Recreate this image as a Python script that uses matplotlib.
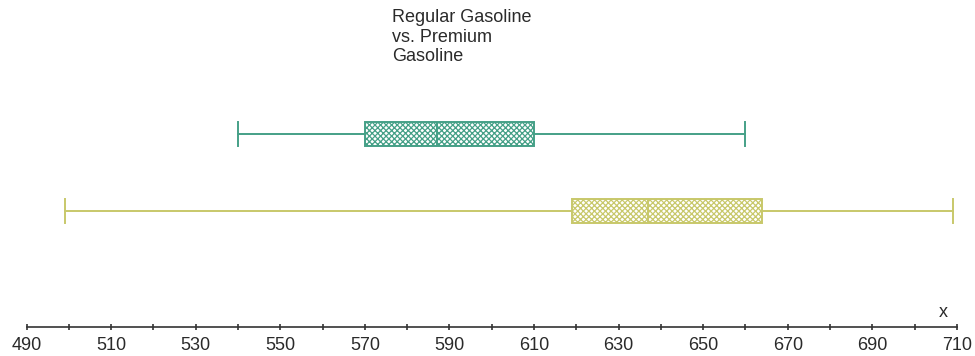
import matplotlib
matplotlib.use("Agg")
import matplotlib.pyplot as plt

# five-number summaries
groups = ["Regular", "Premium"]
mins = [540, 499]
q1s = [570, 619]
medians = [587, 637]
q3s = [610, 664]
maxs = [660, 709]
colors = ["#45a087", "#c8c86a"]
hatch_colors = ["#a3d0c3", "#e4e4b8"]

tick_vals = list(range(490, 711, 10))
tick_labels = [str(v) if (v - 490) % 20 == 0 else "" for v in tick_vals]

plt.rcParams["font.family"] = ["Liberation Sans", "DejaVu Sans"]
plt.rcParams["hatch.linewidth"] = 0.9

fig = plt.figure(figsize=(9.75, 3.56), dpi=100)
ax = fig.add_axes([0, 0, 1, 1])
ax.set_xlim(483.7, 714.3)
ax.set_ylim(-0.871, 3.723)

positions = [2, 1]
for i in range(len(groups)):
    stats = [{"whislo": mins[i], "q1": q1s[i], "med": medians[i],
              "q3": q3s[i], "whishi": maxs[i], "fliers": []}]
    c = colors[i]
    bp = ax.bxp(stats, positions=[positions[i]], widths=0.31, vert=False,
                patch_artist=True, showfliers=False,
                boxprops=dict(facecolor="white", edgecolor=c, linewidth=1.4),
                medianprops=dict(color=c, linewidth=1.4),
                whiskerprops=dict(color=c, linewidth=1.4),
                capprops=dict(color=c, linewidth=1.4),
                capwidths=0.31)
    for box in bp["boxes"]:
        box.set_hatch("xxxxxx")
        try:
            box.set_hatchcolor(hatch_colors[i])
        except AttributeError:
            pass

for s in ["top", "left", "right"]:
    ax.spines[s].set_visible(False)
ax.spines["bottom"].set_position(("data", -0.493))
ax.spines["bottom"].set_bounds(490, 710)
ax.spines["bottom"].set_color("#333333")
ax.spines["bottom"].set_linewidth(1.2)
ax.set_xticks(tick_vals)
ax.set_xticklabels(tick_labels)
ax.tick_params(axis="x", direction="inout", length=5, width=1.2,
               color="#333333", labelsize=13, pad=5, labelcolor="#2a2a2a")
ax.set_yticks([])
ax.patch.set_visible(False)

ax.text(0.967, 0.121, "x", transform=ax.transAxes, ha="center", va="center",
        fontsize=13, color="#2a2a2a")
fig.text(392 / 975, 1 - 9 / 356, "Regular Gasoline\nvs. Premium\nGasoline",
         ha="left", va="top", fontsize=13, color="#2a2a2a", linespacing=1.2)

fig.savefig("out.png", dpi=100)
